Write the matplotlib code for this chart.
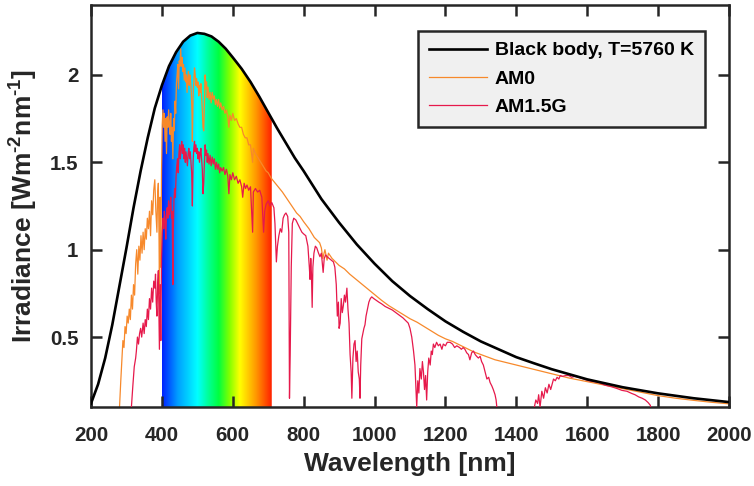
import matplotlib
matplotlib.use('Agg')
import matplotlib.pyplot as plt
import numpy as np
from matplotlib.colors import LinearSegmentedColormap
from matplotlib.patches import Polygon

# black body curve, T = 5760 K
bb_wl = [200, 220, 240, 260, 280, 300, 320, 340, 360, 380, 400, 420, 440, 460, 480,
         500, 520, 540, 560, 580, 600, 625, 650, 675, 700, 725, 750, 775, 800, 850,
         900, 950, 1000, 1050, 1100, 1150, 1200, 1250, 1300, 1350, 1400, 1450, 1500,
         1600, 1700, 1800, 1900, 2000]
bb_irr = [0.12, 0.23, 0.38, 0.57, 0.79, 1.01, 1.24, 1.45, 1.64, 1.81, 1.94, 2.05, 2.13,
          2.19, 2.225, 2.24, 2.235, 2.22, 2.19, 2.15, 2.10, 2.035, 1.96, 1.875, 1.785,
          1.695, 1.61, 1.525, 1.45, 1.29, 1.155, 1.03, 0.92, 0.82, 0.735, 0.66, 0.59,
          0.53, 0.475, 0.43, 0.385, 0.35, 0.316, 0.258, 0.213, 0.178, 0.15, 0.128]

# extraterrestrial spectrum
am0_wl = [270, 280, 284, 287, 290, 293, 296, 299, 302, 305, 308, 311, 314, 317, 320,
          323, 326, 329, 332, 335, 338, 341, 344, 347, 350, 353, 356, 359, 362, 365,
          368, 371, 374, 377, 380, 383, 386, 388, 390, 392, 393, 395, 397, 399, 401,
          403, 405, 407, 409, 411, 413, 415, 417, 419, 421, 423, 425, 427, 429, 431,
          433, 435, 437, 439, 441, 443, 445, 447, 449, 451, 453, 455, 457, 459, 461,
          463, 465, 467, 469, 471, 473, 475, 477, 479, 481, 483, 485, 486, 488, 490,
          492, 494, 496, 498, 500, 502, 504, 506, 508, 510, 512, 514, 516, 518, 520,
          522, 524, 526, 528, 530, 533, 536, 539, 542, 545, 548, 551, 554, 557, 560,
          563, 566, 570, 574, 578, 582, 586, 589, 592, 596, 600, 605, 610, 615, 620,
          625, 630, 635, 640, 645, 650, 656, 658, 664, 670, 676, 682, 688, 694, 700,
          708, 716, 724, 732, 740, 750, 760, 770, 780, 790, 800, 815, 830, 845, 850,
          854, 860, 866, 870, 880, 890, 900, 915, 930, 945, 960, 975, 990, 1005, 1020,
          1040, 1060, 1080, 1100, 1120, 1140, 1160, 1180, 1200, 1220, 1240, 1260, 1280,
          1300, 1320, 1340, 1360, 1380, 1400, 1420, 1440, 1460, 1480, 1500, 1550, 1600,
          1650, 1700, 1750, 1800, 1850, 1900, 1950, 2000]
am0_irr = [0.0, 0.08, 0.25, 0.36, 0.48, 0.44, 0.56, 0.52, 0.62, 0.58, 0.66, 0.60, 0.74,
           0.66, 0.80, 0.74, 0.92, 1.00, 0.86, 1.02, 0.94, 1.08, 0.98, 1.10, 1.00, 1.12,
           1.06, 1.18, 1.12, 1.22, 1.08, 1.28, 1.20, 1.34, 1.40, 1.22, 1.10, 1.32, 1.38,
           1.05, 0.75, 1.30, 0.90, 1.45, 1.72, 1.80, 1.70, 1.78, 1.62, 1.75, 1.55, 1.76,
           1.70, 1.80, 1.72, 1.66, 1.78, 1.62, 1.70, 1.52, 1.75, 1.68, 1.85, 1.78, 1.95,
           2.00, 2.06, 1.92, 2.08, 2.05, 2.15, 2.05, 2.10, 2.02, 2.06, 1.97, 2.04, 1.96,
           2.00, 1.90, 1.98, 2.02, 1.94, 2.00, 1.96, 1.90, 1.78, 1.62, 1.88, 1.96, 2.04,
           2.00, 1.94, 1.98, 1.93, 1.96, 1.88, 1.94, 1.90, 1.95, 1.88, 1.80, 1.70, 1.68,
           1.85, 2.00, 1.92, 1.96, 1.87, 1.93, 1.86, 1.90, 1.84, 1.90, 1.86, 1.88, 1.83,
           1.86, 1.82, 1.86, 1.81, 1.84, 1.80, 1.82, 1.78, 1.80, 1.76, 1.70, 1.77, 1.74,
           1.78, 1.74, 1.75, 1.72, 1.70, 1.70, 1.66, 1.64, 1.64, 1.60, 1.60, 1.50, 1.58,
           1.55, 1.53, 1.51, 1.49, 1.47, 1.45, 1.44, 1.41, 1.39, 1.37, 1.35, 1.33, 1.30,
           1.27, 1.24, 1.21, 1.19, 1.16, 1.12, 1.07, 1.04, 1.01, 0.95, 1.00, 0.94, 0.98,
           0.95, 0.93, 0.91, 0.89, 0.86, 0.835, 0.81, 0.785, 0.76, 0.735, 0.71,
           0.68, 0.655, 0.63, 0.605, 0.585, 0.56, 0.535, 0.51, 0.49, 0.475, 0.455, 0.435,
           0.415, 0.40, 0.385, 0.37, 0.36, 0.35, 0.34, 0.33, 0.32, 0.31, 0.30, 0.29,
           0.265, 0.245, 0.225, 0.205, 0.185, 0.165, 0.15, 0.138, 0.127, 0.118]

# global tilt spectrum at air mass 1.5
am15_wl = [300, 310, 314, 318, 322, 326, 328, 331, 334, 337, 340, 343, 347, 350, 353,
           356, 359, 362, 365, 368, 371, 374, 377, 380, 382, 384, 386, 388, 390, 392,
           393, 395, 397, 399, 401, 403, 405, 407, 409, 411, 413, 415, 417, 419, 421,
           423, 425, 427, 429, 431, 432, 434, 436, 438, 440, 442, 444, 446, 448, 450,
           452, 454, 456, 458, 460, 462, 464, 466, 468, 470, 472, 474, 476, 478, 480,
           482, 484, 486, 488, 490, 492, 494, 496, 498, 500, 502, 504, 506, 508, 510,
           512, 514, 516, 518, 520, 522, 524, 526, 528, 530, 533, 536, 539, 542, 545,
           548, 551, 554, 557, 560, 563, 566, 570, 574, 578, 582, 586, 589, 592, 596,
           600, 605, 610, 615, 620, 625, 628, 632, 636, 640, 645, 650, 656, 658, 664,
           670, 676, 682, 687, 690, 694, 700, 705, 710, 716, 719, 723, 726, 730, 734,
           738, 742, 746, 750, 755, 758, 760, 762, 765, 768, 772, 778, 785, 790, 795,
           800, 806, 812, 816, 818, 820, 822, 824, 826, 829, 833, 837, 842, 846, 850,
           855, 858, 862, 866, 872, 878, 884, 888, 892, 895, 898, 900, 903, 906, 909,
           912, 915, 918, 922, 925, 928, 931, 934, 936, 939, 942, 945, 948, 951, 954,
           957, 959, 961, 964, 967, 970, 973, 976, 980, 984, 988, 992, 998, 1005, 1012,
           1020, 1030, 1040, 1050, 1060, 1070, 1080, 1090, 1095, 1100, 1105, 1110, 1114,
           1117, 1119, 1122, 1125, 1128, 1132, 1135, 1138, 1141, 1144, 1147, 1150, 1153,
           1157, 1160, 1163, 1166, 1170, 1175, 1180, 1185, 1190, 1194, 1200, 1205, 1213,
           1220, 1226, 1232, 1240, 1245, 1250, 1255, 1260, 1265, 1269, 1274, 1279, 1284,
           1288, 1293, 1298, 1302, 1307, 1312, 1317, 1322, 1326, 1331, 1335, 1340, 1343,
           1346, 1350, 1440, 1449, 1455, 1460, 1463, 1467, 1472, 1477, 1482, 1487, 1492,
           1497, 1501, 1505, 1510, 1515, 1520, 1524, 1530, 1540, 1548, 1556, 1565, 1576,
           1590, 1604, 1618, 1632, 1650, 1670, 1685, 1698, 1712, 1726, 1735, 1745, 1755,
           1764, 1772, 1778, 1785, 1800]
am15_irr = [0.0, 0.05, 0.10, 0.22, 0.33, 0.38, 0.42, 0.50, 0.46, 0.52, 0.55, 0.50, 0.58,
            0.52, 0.60, 0.56, 0.66, 0.60, 0.72, 0.66, 0.78, 0.70, 0.82, 0.78, 0.86, 0.70,
            0.62, 0.80, 0.88, 0.60, 0.43, 0.80, 0.48, 0.95, 1.10, 1.18, 1.12, 1.22, 1.16,
            1.06, 1.20, 1.24, 1.18, 1.28, 1.20, 1.24, 1.30, 1.18, 1.22, 0.80, 1.10, 1.28,
            1.35, 1.30, 1.42, 1.48, 1.52, 1.44, 1.55, 1.60, 1.52, 1.58, 1.62, 1.55, 1.60,
            1.52, 1.58, 1.50, 1.56, 1.52, 1.48, 1.55, 1.58, 1.52, 1.56, 1.50, 1.44, 1.25,
            1.50, 1.58, 1.62, 1.56, 1.60, 1.55, 1.58, 1.52, 1.56, 1.50, 1.55, 1.58, 1.52,
            1.46, 1.32, 1.38, 1.50, 1.60, 1.54, 1.57, 1.50, 1.55, 1.49, 1.54, 1.48, 1.53,
            1.49, 1.52, 1.46, 1.50, 1.46, 1.49, 1.44, 1.47, 1.45, 1.47, 1.43, 1.46, 1.42,
            1.32, 1.43, 1.40, 1.44, 1.40, 1.42, 1.38, 1.40, 1.36, 1.30, 1.38, 1.35, 1.37,
            1.34, 1.36, 1.10, 1.33, 1.35, 1.33, 1.34, 1.30, 1.10, 1.22, 1.26, 1.28, 1.25,
            1.27, 1.24, 1.15, 0.93, 1.02, 1.08, 1.12, 1.10, 1.18, 1.20, 1.21, 1.19, 1.10,
            0.15, 0.40, 0.90, 1.15, 1.18, 1.17, 1.14, 1.12, 1.10, 1.09, 1.08, 1.02, 0.90,
            0.83, 0.95, 0.86, 0.67, 0.90, 0.98, 1.02, 1.01, 0.98, 0.96, 0.98, 0.87, 0.95,
            0.97, 0.96, 0.95, 0.94, 0.93, 0.90, 0.80, 0.62, 0.70, 0.55, 0.58, 0.72, 0.64,
            0.68, 0.74, 0.70, 0.78, 0.66, 0.58, 0.40, 0.30, 0.15, 0.38, 0.46, 0.48, 0.36,
            0.42, 0.30, 0.26, 0.15, 0.34, 0.49, 0.52, 0.55, 0.57, 0.62, 0.66, 0.70, 0.72,
            0.73, 0.72, 0.71, 0.70, 0.69, 0.675, 0.665, 0.655, 0.64, 0.625, 0.61, 0.59,
            0.58, 0.55, 0.50, 0.42, 0.34, 0.20, 0.10, 0.25, 0.18, 0.32, 0.26, 0.36, 0.30,
            0.20, 0.28, 0.14, 0.30, 0.38, 0.34, 0.42, 0.40, 0.46, 0.44, 0.47, 0.45, 0.46,
            0.43, 0.46, 0.45, 0.47, 0.47, 0.46, 0.44, 0.45, 0.44, 0.43, 0.44, 0.43, 0.41,
            0.40, 0.37, 0.41, 0.42, 0.40, 0.39, 0.38, 0.39, 0.36, 0.34, 0.30, 0.26, 0.27,
            0.24, 0.22, 0.20, 0.17, 0.14, 0.08, 0.0, 0.0, 0.08, 0.14, 0.12, 0.17, 0.10,
            0.19, 0.15, 0.21, 0.18, 0.23, 0.20, 0.23, 0.26, 0.25, 0.27, 0.26, 0.28, 0.275,
            0.28, 0.28, 0.27, 0.275, 0.27, 0.26, 0.25, 0.245, 0.24, 0.225, 0.215, 0.205,
            0.195, 0.19, 0.177, 0.17, 0.158, 0.15, 0.14, 0.125, 0.11, 0.05, 0.0]

# visible band and its colours
vis_lo, vis_hi = 400, 710
rainbow_nm = [400, 445, 500, 530, 560, 590, 620, 665, 710]
rainbow_col = ['#0022ff', '#00a0ff', '#00ffff', '#00ff99', '#00ff40', '#80ff00',
               '#ffff00', '#ff9900', '#ff2000']

plt.rcParams['font.family'] = ['Liberation Sans', 'DejaVu Sans']
plt.rcParams['font.weight'] = 'bold'
plt.rcParams['mathtext.fontset'] = 'custom'
plt.rcParams['mathtext.rm'] = 'Liberation Sans:bold'
plt.rcParams['mathtext.bf'] = 'Liberation Sans:bold'

fig = plt.figure(figsize=(7.54, 4.86), dpi=100)
ax = fig.add_axes([0.1207, 0.1626, 0.8461, 0.8271])

# rainbow under the black body curve
stops = [((n - vis_lo) / (vis_hi - vis_lo), c) for n, c in zip(rainbow_nm, rainbow_col)]
cmap = LinearSegmentedColormap.from_list('vis', stops)
grad = np.linspace(0, 1, 512)[None, :]
im = ax.imshow(grad, cmap=cmap, aspect='auto', extent=[vis_lo, vis_hi, 0, 2.5],
               origin='lower', zorder=1)
bb_x = np.array(bb_wl, dtype=float)
bb_y = np.array(bb_irr)
inside = (bb_x > vis_lo) & (bb_x < vis_hi)
px = [vis_lo] + list(bb_x[inside]) + [vis_hi]
py = [np.interp(vis_lo, bb_x, bb_y)] + list(bb_y[inside]) + [np.interp(vis_hi, bb_x, bb_y)]
clip = Polygon(list(zip(px, py)) + [(vis_hi, 0), (vis_lo, 0)], closed=True,
               transform=ax.transData, facecolor='none', edgecolor='none')
ax.add_patch(clip)
im.set_clip_path(clip)

ax.plot(bb_wl, bb_irr, color='black', lw=1.9, zorder=4, label='Black body, T=5760 K')
ax.plot(am0_wl, am0_irr, color='#F7892B', lw=0.9, zorder=2, label='AM0')
ax.plot(am15_wl, am15_irr, color='#E6194B', lw=0.9, zorder=3, label='AM1.5G')

ax.set_xlim(200, 2000)
ax.set_ylim(0.1, 2.4)
ax.set_xticks(range(200, 2001, 200))
ax.set_yticks([0.5, 1, 1.5, 2])
ax.set_yticklabels(['0.5', '1', '1.5', '2'])
ax.tick_params(direction='in', top=True, right=True, length=8, width=1.8,
               labelsize=14.8, colors='#262626')
ax.tick_params(axis='x', pad=14)
ax.tick_params(axis='y', pad=9)
for lab in ax.get_xticklabels() + ax.get_yticklabels():
    lab.set_fontweight('bold')
    lab.set_color('#262626')
for sp in ax.spines.values():
    sp.set_linewidth(1.8)
    sp.set_color('#262626')

ax.set_xlabel('Wavelength [nm]', fontsize=19, fontweight='bold', color='#262626',
              labelpad=5)
ax.set_ylabel(r'Irradiance [Wm$^{\text{-2}}$nm$^{\text{-1}}$]', fontsize=19,
              fontweight='bold', color='#262626', labelpad=8)

leg = ax.legend(loc='upper right', bbox_to_anchor=(0.962, 0.935), borderaxespad=0,
                fontsize=14, handlelength=3.0, handletextpad=0.4, labelspacing=0.55,
                fancybox=False, framealpha=1, borderpad=0.55)
leg.get_frame().set_facecolor('#F0F0F0')
leg.get_frame().set_edgecolor('#262626')
leg.get_frame().set_linewidth(1.8)
for t in leg.get_texts():
    t.set_fontweight('bold')

fig.savefig('out.png', dpi=100)
